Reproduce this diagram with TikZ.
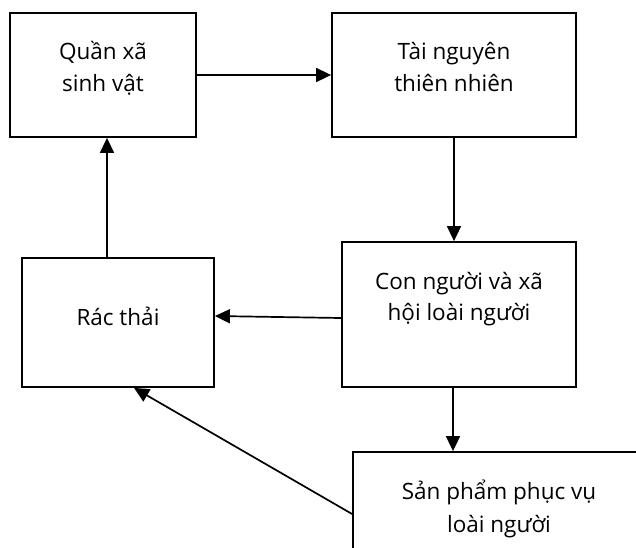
\documentclass[tikz,border=0pt]{standalone}
\usepackage{fontspec}
\setmainfont{Open Sans}
\usetikzlibrary{arrows.meta,calc}
\begin{document}
\begin{tikzpicture}[x=1pt,y=-1pt,
  box/.style={draw,line width=1.8pt,inner sep=0pt},
  caption/.style={anchor=base,font=\fontsize{22.5}{22.5}\selectfont,inner sep=0pt},
  link/.style={line width=1.7pt,-{Triangle[length=15pt,width=14pt]}}]
\useasboundingbox (0,0) rectangle (636,547);
% boxes
\node[box,minimum width=186pt,minimum height=124pt] (b1) at (103,75) {};
\node[box,minimum width=244pt,minimum height=124pt] (b2) at (454,75) {};
\node[box,minimum width=192pt,minimum height=129pt] (b3) at (118,322.5) {};
\node[box,minimum width=234pt,minimum height=145pt] (b4) at (459,314.5) {};
\node[box,minimum width=300pt,minimum height=130pt] (b5) at (503,517) {};
% captions
\node[caption] (t1a) at ($(b1.north)+(0,47)$) {Quần xã};
\node[caption] (t1b) at ($(b1.north)+(0,79)$) {sinh vật};
\node[caption] (t2a) at ($(b2.north)+(0,47)$) {Tài nguyên};
\node[caption] (t2b) at ($(b2.north)+(0,79)$) {thiên nhiên};
\node[caption] (t3) at ($(b3.north)+(0,68)$) {Rác thải};
\node[caption] (t4a) at ($(b4.north)+(0,48)$) {Con người và xã};
\node[caption] (t4b) at ($(b4.north)+(0,79)$) {hội loài người};
\node[caption] (t5a) at (499,499) {Sản phẩm phục vụ};
\node[caption] (t5b) at (499,532) {loài người};
% connectors
\draw[link] (b1.east) -- (b2.west);
\draw[link] (b2.south) -- (b2.south |- b4.north);
\draw[link] (b4.west |- 0,318) -- (b3.east |- 0,316);
\draw[link] (b3.north -| 107,0) -- (b1.south -| 107,0);
\draw[link] (b4.south -| 453,0) -- (b5.north -| 453,0);
\draw[link] (b5.west |- 0,514) -- (b3.south -| 134,0);
\end{tikzpicture}
\end{document}
